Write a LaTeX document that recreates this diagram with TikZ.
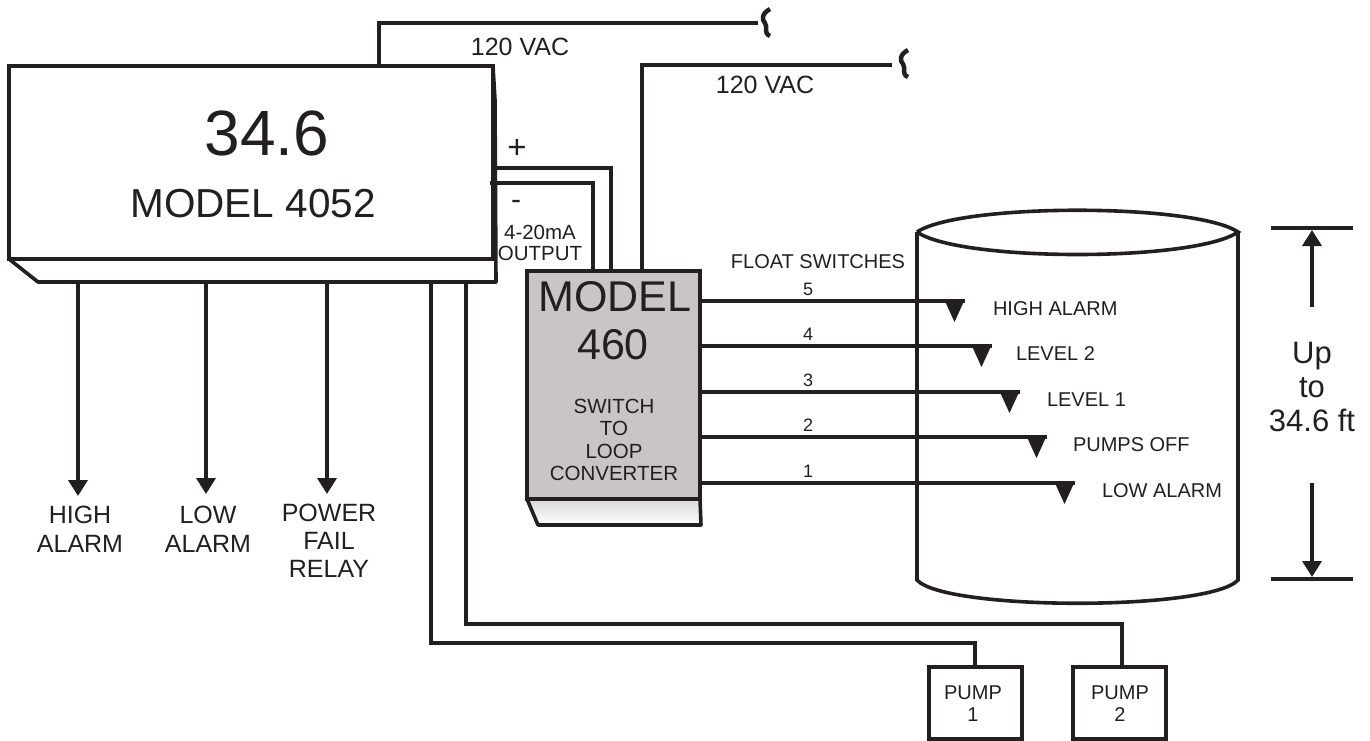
\documentclass[tikz,border=0pt]{standalone}
\usepackage{fontspec}
\usepackage{xcolor}
\setmainfont{Liberation Sans}
\usetikzlibrary{arrows.meta}
\definecolor{inkblack}{HTML}{231F20}
\definecolor{boxgray}{HTML}{C9C5C5}
\newcommand{\fs}[1]{\fontsize{#1}{#1}\selectfont}

\begin{document}
\begin{tikzpicture}[x=1pt, y=-1pt, line join=miter,
  every node/.style={text=inkblack, align=center, inner sep=0pt, outer sep=0pt},
  wire/.style={draw=inkblack, line width=3.6pt},
  signal/.style={wire, -{Triangle[length=16pt, width=19pt]}},
  box/.style={draw=inkblack, line width=3.6pt, anchor=north west},
  squiggle/.style={draw=inkblack, line width=4.5pt},
  tag/.style={font=\fs{20}, anchor=west},
  num/.style={font=\fs{18}}]
  \useasboundingbox (0,0) rectangle (1370,740);
  % meter
  \node[box, minimum width=484pt, minimum height=193pt] (meter) at (9,66) {};
  \draw[wire, line join=round] (meter.south west) -- (38,282) coordinate (mbl) -- (496,282) coordinate (mbr) -- (495,100) -- (meter.north east);
  \node[font=\fs{64}] (reading) at (267,133) {34.6};
  \node[font=\fs{40.5}] (meterlabel) at (253,204) {MODEL 4052};
  % converter
  \shade[top color=white!85!black, bottom color=white] (527,499) -- (538,525) -- (700,525) -- (700,499) -- cycle;
  \node[box, fill=boxgray, minimum width=173pt, minimum height=228pt] (conv) at (527,271) {};
  \draw[wire, line join=round] (conv.south west) -- (538,525) -- (701,525) -- (conv.south east);
  \node[font=\fs{43}] (convname) at (615,297) {MODEL};
  \node[font=\fs{43}] (convnum) at (613,345) {460};
  \node[font=\fs{20.5}] (convtext) at (614,440) {SWITCH\\[2pt]TO\\[2pt]LOOP\\[2pt]CONVERTER};
  % mains
  \coordinate (acone) at (379,66);
  \coordinate (acend) at (758,23);
  \coordinate (actwo) at (642,271);
  \coordinate (acendb) at (892,65);
  \draw[wire] (acone) -- (379,23) -- (acend);
  \draw[wire] (actwo) -- (642,65) -- (acendb);
  \draw[squiggle] (770,9) .. controls (761,14) and (762,20) .. (765,23) .. controls (768,27) and (763,33) .. (770,36);
  \draw[squiggle] (908,50) .. controls (899,55) and (900,61) .. (903,64) .. controls (906,68) and (901,74) .. (908,77);
  \node[font=\fs{25}] (vac) at (520,47) {120 VAC};
  \node[font=\fs{25}] (vacb) at (765,85) {120 VAC};
  % loop
  \draw[wire] (493,168) -- (611,168) -- (611,271);
  \draw[wire] (490,183) -- (593,183) -- (593,271);
  \node[font=\fs{33}] (plus) at (517,149) {+};
  \node[font=\fs{30}] (minus) at (516,205) {-};
  \node[font=\fs{20.5}] (output) at (540,243) {4-20mA\\[0pt]OUTPUT};
  % tank
  \draw[wire] (917,232) -- (917,580) .. controls (945,611) and (1210,611) .. (1238,580) -- (1238,232);
  \draw[wire] (917,232) .. controls (960,203) and (1195,203) .. (1238,232) .. controls (1195,262) and (960,262) .. (917,232);
  % float switches
  \node[font=\fs{20}] (floats) at (818,262) {FLOAT SWITCHES};
  \foreach \y/\xend/\n/\lab/\lx in {301/965/5/HIGH ALARM/993, 346/992/4/LEVEL 2/1016, 392/1020/3/LEVEL 1/1047, 437/1047/2/PUMPS OFF/1073, 483/1075/1/LOW ALARM/1102}{
    \coordinate (sw\n) at (\xend,\y);
    \draw[wire] (699,\y) -- (sw\n);
    \fill[inkblack] (sw\n) ++(0,-2) -- ++(-21,0) -- ++(10.5,23) -- cycle;
    \node[num] (n\n) at (808,\y-12) {\n};
    \node[tag] (lab\n) at (\lx,\y+8) {\lab};
  }
  % height
  \draw[wire] (1271,228) -- (1353,228);
  \draw[wire] (1271,579) -- (1353,579);
  \draw[signal] (1312,307) -- (1312,230);
  \draw[signal] (1312,483) -- (1312,577);
  \node[font=\fs{31}] (height) at (1312,387) {Up\\[3pt]to\\[3pt]34.6 ft};
  % relays
  \draw[signal] (78,282) -- (78,496);
  \draw[signal] (206,282) -- (206,494);
  \draw[signal] (327,282) -- (327,494);
  \node[font=\fs{25}, anchor=north] (rhigh) at (80,506.5) {HIGH\\[4pt]ALARM};
  \node[font=\fs{25}, anchor=north] (rlow) at (208,506.5) {LOW\\[4pt]ALARM};
  \node[font=\fs{25}, anchor=north] (rpow) at (329,504) {POWER\\[3pt]FAIL\\[3pt]RELAY};
  % pumps
  \node[box, minimum width=93pt, minimum height=72pt] (pumpa) at (929,667) {};
  \node[box, minimum width=93pt, minimum height=72pt] (pumpb) at (1073,667) {};
  \node[font=\fs{20}] (pumpatext) at (973,704) {PUMP\\[2pt]1};
  \node[font=\fs{20}] (pumpbtext) at (1120,704) {PUMP\\[2pt]2};
  \draw[wire] (431,282) -- (431,643) -- (975,643) -- (975,667);
  \draw[wire] (466,282) -- (466,624) -- (1122,624) -- (1122,667);
\end{tikzpicture}
\end{document}
